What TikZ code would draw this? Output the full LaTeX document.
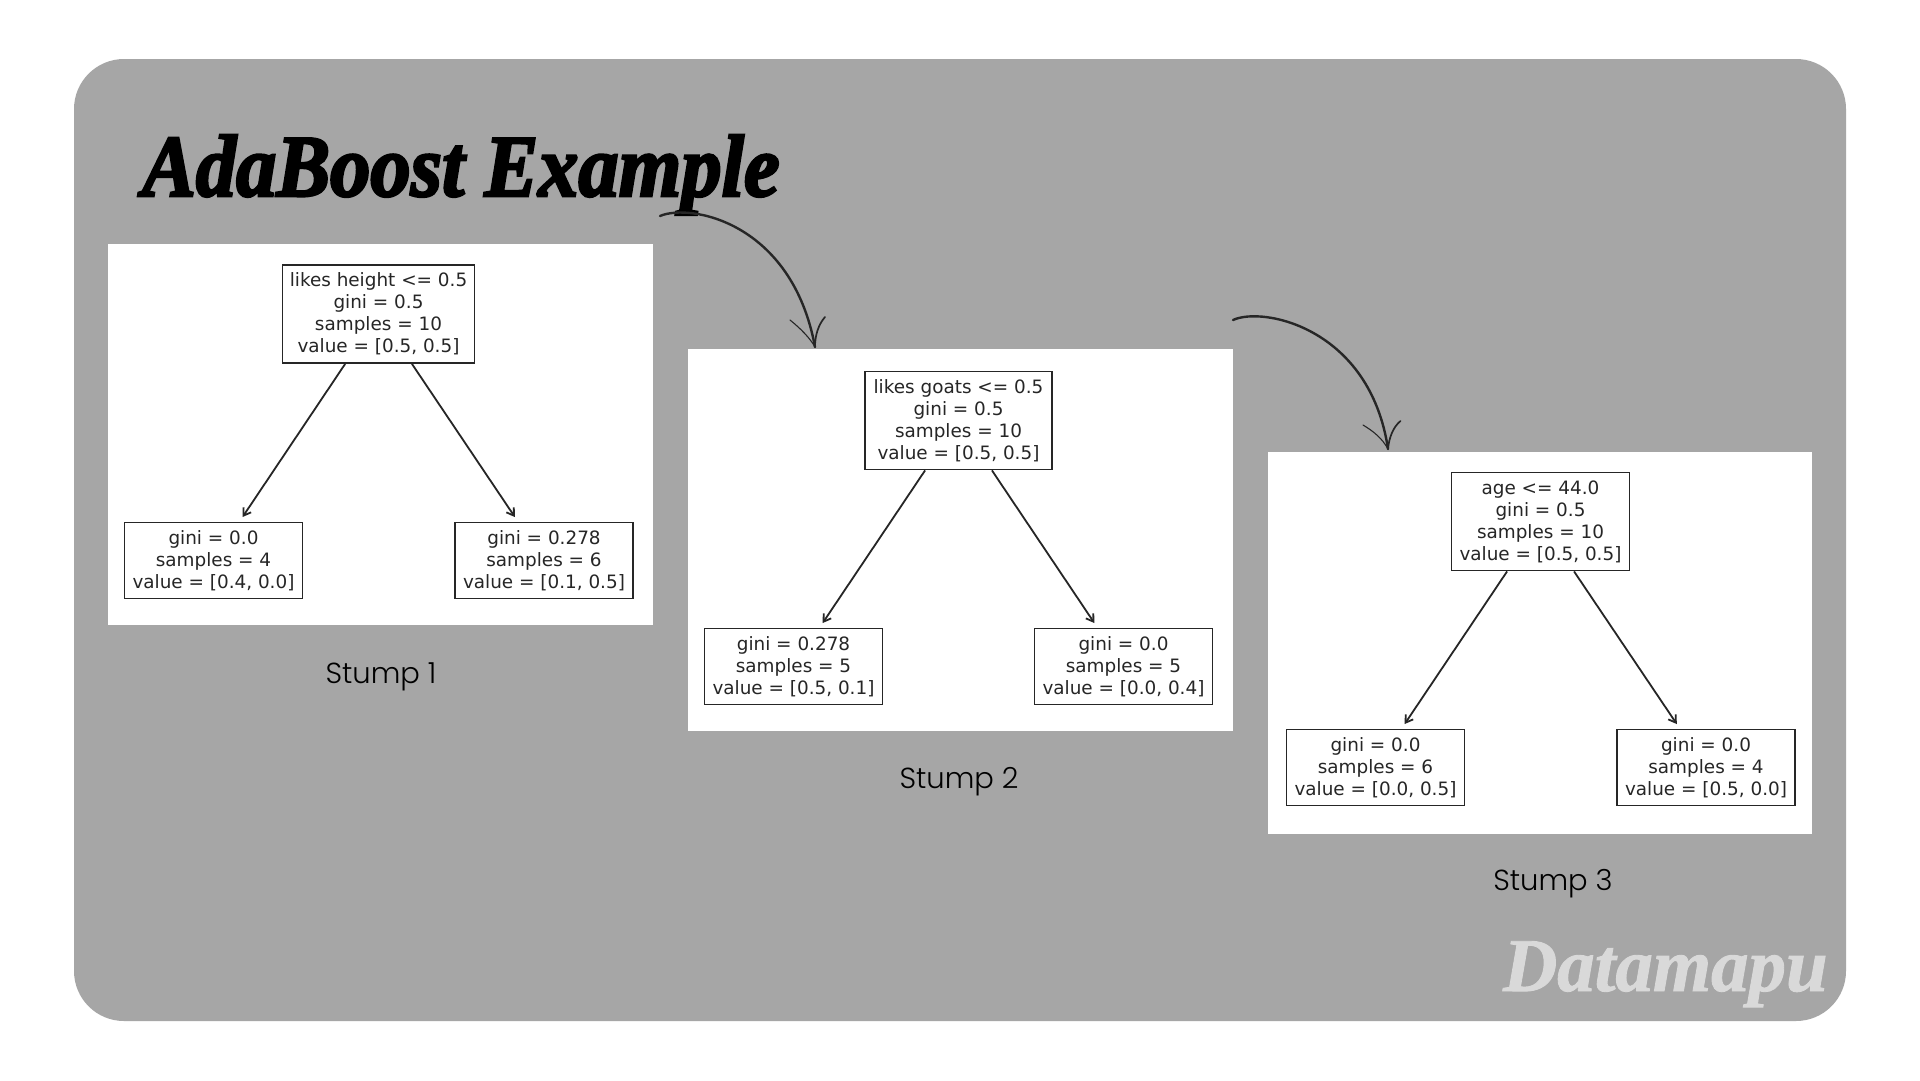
\documentclass[tikz,border=0pt]{standalone}
\usepackage{fontspec}
\setmainfont{DejaVu Sans}
\newfontfamily\titlefont[FakeBold=3]{Liberation Serif Bold Italic}
\newfontfamily\markfont[FakeBold=1.2]{Liberation Serif Bold Italic}
\newfontfamily\handfont{Poppins Light}
\definecolor{panelgray}{HTML}{A6A6A6}
\definecolor{inkdark}{HTML}{262626}
\definecolor{markgray}{HTML}{D9D9D9}
\usetikzlibrary{arrows.meta}
\tikzset{
  x=1pt,y=-1pt,
  treebox/.style={draw=inkdark,fill=white,line width=1.8pt,text=inkdark,inner sep=0pt,align=center,
    font=\fontsize{18.4}{22}\selectfont},
  rootbox/.style={treebox,minimum height=98pt},
  leafbox/.style={treebox,minimum height=76pt,minimum width=178pt},
  treearrow/.style={draw=inkdark,line width=1.8pt,-{Straight Barb[length=7pt,width=9pt]},shorten >=5.5pt,shorten <=0pt},
  plot/.style={fill=white,draw=none},
  stumplabel/.style={text=black,font=\handfont\fontsize{29}{32}\selectfont},
  sketch/.style={draw=inkdark,line cap=round,line join=round},
}
\begin{document}
\begin{tikzpicture}
\useasboundingbox (0,0) rectangle (1920,1080);
\fill[white] (0,0) rectangle (1920,1080);
\fill[panelgray,rounded corners=50pt] (74,59) rectangle (1846,1021);

% plots
\fill[plot] (108,243.5) rectangle (653,625);
\fill[plot] (687.5,349) rectangle (1232.5,731);
\fill[plot] (1267.5,452) rectangle (1812,834);

% stump 1
\node[rootbox,minimum width=192pt] (r1) at (378.5,314) {likes height <= 0.5\\gini = 0.5\\samples = 10\\value = [0.5, 0.5]};
\node[leafbox] (a1) at (213.5,560.5) {gini = 0.0\\samples = 4\\value = [0.4, 0.0]};
\node[leafbox] (b1) at (544,560.5) {gini = 0.278\\samples = 6\\value = [0.1, 0.5]};
\draw[treearrow] (r1) -- (a1);
\draw[treearrow] (r1) -- (b1);

% stump 2
\node[rootbox,minimum width=187pt] (r2) at (958.5,420.5) {likes goats <= 0.5\\gini = 0.5\\samples = 10\\value = [0.5, 0.5]};
\node[leafbox] (a2) at (793.5,666.5) {gini = 0.278\\samples = 5\\value = [0.5, 0.1]};
\node[leafbox] (b2) at (1123.5,666.5) {gini = 0.0\\samples = 5\\value = [0.0, 0.4]};
\draw[treearrow] (r2) -- (a2);
\draw[treearrow] (r2) -- (b2);

% stump 3
\node[rootbox,minimum width=178pt] (r3) at (1540.5,521.5) {age <= 44.0\\gini = 0.5\\samples = 10\\value = [0.5, 0.5]};
\node[leafbox] (a3) at (1375.5,767.5) {gini = 0.0\\samples = 6\\value = [0.0, 0.5]};
\node[leafbox] (b3) at (1706,767.5) {gini = 0.0\\samples = 4\\value = [0.5, 0.0]};
\draw[treearrow] (r3) -- (a3);
\draw[treearrow] (r3) -- (b3);

% labels
\node[stumplabel] (s1) at (381,677) {Stump 1};
\node[stumplabel] (s2) at (959,782) {Stump 2};
\node[stumplabel] (s3) at (1553,884) {Stump 3};

% title and mark
\node[anchor=base west,inner sep=0pt,text=black,font=\titlefont\fontsize{88}{96}\selectfont] (title) at (142,196) {\scalebox{0.915}[1]{AdaBoost Example}};
\node[anchor=base west,inner sep=0pt,text=markgray,font=\markfont\fontsize{76}{80}\selectfont] (mark) at (1503,991) {\scalebox{0.985}[1]{Datamapu}};

% hand-drawn arrows
\coordinate (c1s) at (660,216);
\coordinate (c1e) at (815,347);
\coordinate (c1l) at (790,320);
\coordinate (c1r) at (825,317);
\draw[sketch,line width=2.4pt] (c1s) .. controls (690,203) and (792,222) .. (c1e);
\draw[sketch,line width=1.1pt] (c1l) .. controls (800,328) and (810,338) .. (c1e);
\draw[sketch,line width=1.7pt] (c1r) .. controls (818,325) and (815,336) .. (c1e);
\coordinate (c2s) at (1233,320);
\coordinate (c2e) at (1388,449);
\coordinate (c2l) at (1363,425);
\coordinate (c2r) at (1400.5,421);
\draw[sketch,line width=2.4pt] (c2s) .. controls (1263,306) and (1370,328) .. (c2e);
\draw[sketch,line width=1.1pt] (c2l) .. controls (1373,431) and (1382,438) .. (c2e);
\draw[sketch,line width=1.7pt] (c2r) .. controls (1393,427) and (1389,438) .. (c2e);
\end{tikzpicture}
\end{document}
